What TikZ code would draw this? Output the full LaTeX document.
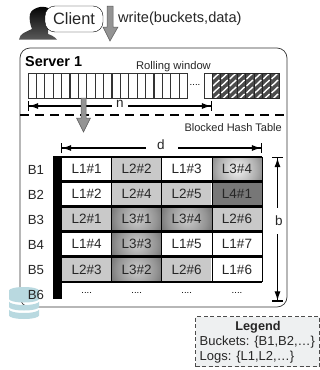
\documentclass[tikz,border=0pt]{standalone}
\usepackage{fontspec}
\setmainfont{Liberation Sans}
\usetikzlibrary{arrows.meta}
\definecolor{cylc}{HTML}{B9D9E0}
\definecolor{legc}{HTML}{EEF0F1}
\definecolor{ctwo}{HTML}{C9C9C9}
\definecolor{cfour}{HTML}{777777}
\pgfdeclareradialshading{glowa}{\pgfpoint{0cm}{0cm}}{color(0bp)=(white!95!black);color(14bp)=(white!68!black);color(36bp)=(black!85);color(50bp)=(black!92)}
\pgfdeclareradialshading{glowb}{\pgfpoint{0cm}{0cm}}{color(0bp)=(white!80!black);color(14bp)=(white!58!black);color(36bp)=(black!88);color(50bp)=(black!92)}
\tikzset{
 cella/.style={minimum width=49.5pt,minimum height=23pt,inner sep=0pt,font=\fontsize{13.5}{15}\selectfont,text=black!85},
 ltwo/.style={cella,fill=ctwo},
 lone/.style={cella,fill=white},
 lfour/.style={cella,fill=cfour},
 lthree/.style={cella,path picture={\shade[shading=glowa] ([shift={(-35pt,-35pt)}]path picture bounding box.center) rectangle ([shift={(35pt,35pt)}]path picture bounding box.center);}},
 lthreeb/.style={cella,path picture={\shade[shading=glowb] ([shift={(-35pt,-35pt)}]path picture bounding box.center) rectangle ([shift={(35pt,35pt)}]path picture bounding box.center);}},
 rowlab/.style={font=\fontsize{13.2}{15}\selectfont,text=black!85},
 halfdim/.style={line width=1.1pt,{Bar[width=10pt]Latex[length=9pt,width=6pt]}-},
 halfdimb/.style={line width=1.1pt,-{Latex[length=9pt,width=6pt]Bar[width=10pt]}},
 slot/.style={draw=black!80,minimum width=8.3pt,minimum height=25pt,inner sep=0pt,line width=.5pt},
 bigarrow/.style={fill=black!42,draw=black!65,line width=.5pt},
 dimlab/.style={font=\fontsize{13.5}{15}\selectfont,text=black!85,inner sep=0pt}
}
\begin{document}
\begin{tikzpicture}[x=1pt,y=-1pt,line join=miter]
\useasboundingbox (0,0) rectangle (320,370);
% person
\shade[top color=black,bottom color=black!65] (19,39.5) .. controls (20,33) and (26,32) .. (32,29) .. controls (30,24) and (29,19) .. (30,14) .. controls (32,8) and (42,5) .. (48,8) -- (48,34) .. controls (51,35) and (55,37) .. (57,39.5) -- cycle;
\node[draw,fill=white,rounded corners=10pt,minimum width=58pt,minimum height=26pt,inner sep=0pt,font=\fontsize{16.4}{18}\selectfont,text=black!85] (client) at (74,19) {Client};
\node[anchor=west,font=\fontsize{14.6}{16}\selectfont,text=black!85,inner sep=0pt] (wr) at (118,19) {write(buckets,data)};
% top arrow
\draw[bigarrow] (107,6) -- (113,6) -- (113,27) -- (118,27) -- (110,41) -- (103,27) -- (107,27) -- cycle;
% server
\draw[black!80,line width=.7pt,rounded corners=10pt] (20,48) rectangle (287,307);
\node[font=\bfseries\fontsize{14.4}{16}\selectfont,anchor=west,inner sep=0pt] (srv) at (25,62) {Server 1};
\node[font=\fontsize{11.2}{13}\selectfont,text=black!85,inner sep=0pt] (rw) at (173.5,67) {Rolling window};
\foreach \i in {0,...,18} \node[slot,anchor=west] (s\i) at ({27.5+\i*8.4},86) {};
\node[font=\fontsize{9.5}{11}\selectfont,inner sep=0pt] (dots) at (195,85) {....};
\node[slot,anchor=west] (s19) at (203.5,86) {};
% hatched slots
\fill[black!70] (212,73.5) rectangle (279,98.5);
\begin{scope}
\clip (212,73.5) rectangle (279,98.5);
\foreach \i in {0,...,7} \foreach \k in {0,1,2,3}
 \draw[white,line width=1.4pt] ({212+\i*8.375+1},{79+\k*7}) -- ({212+\i*8.375+7.4},{73+\k*7});
\end{scope}
\foreach \i in {0,...,8} \draw[black!85,line width=.7pt] ({212+\i*8.375},73.5) -- ({212+\i*8.375},98.5);
\draw[black!85,line width=.7pt] (212,73.5) rectangle (279,98.5);
% n
\coordinate (na) at (28,106); \coordinate (nb) at (212,106);
\coordinate (ne) at (112,106); \coordinate (nf) at (128,106);
\node[dimlab] (nl) at (120,103.5) {n};
\draw[halfdim] (na) -- (ne);
\draw[halfdimb] (nf) -- (nb);
\draw[line width=1.3pt,dash pattern=on 9pt off 6pt] (20,115) -- (287,115);
\draw[bigarrow] (81,98) -- (86,98) -- (86,118) -- (90.5,118) -- (83.5,132) -- (76.5,118) -- (81,118) -- cycle;
\node[font=\fontsize{11}{13}\selectfont,text=black!85,anchor=east,inner sep=0pt] (bht) at (282,127.5) {Blocked Hash Table};
% d
\coordinate (da) at (61,148); \coordinate (db) at (262,148);
\coordinate (de) at (146,148); \coordinate (df) at (178,148);
\node[dimlab] (dl) at (161,145) {d};
\draw[halfdim] (da) -- (de);
\draw[halfdimb] (df) -- (db);
% table
\fill (53,156) rectangle (62,299);
\node[lone] (c11) at (86.7,169) {L1\#1};
\node[ltwo] (c12) at (136.7,169) {L2\#2};
\node[lone] (c13) at (186.7,169) {L1\#3};
\node[lthree] (c14) at (237,169) {L3\#4};
\node[lone] (c21) at (86.7,194) {L1\#2};
\node[ltwo] (c22) at (136.7,194) {L2\#4};
\node[ltwo] (c23) at (186.7,194) {L2\#5};
\node[lfour] (c24) at (237,194) {L4\#1};
\node[ltwo] (c31) at (86.7,219) {L2\#1};
\node[lthreeb] (c32) at (136.7,219) {L3\#1};
\node[lthreeb] (c33) at (186.7,219) {L3\#4};
\node[ltwo] (c34) at (237,219) {L2\#6};
\node[lone] (c41) at (86.7,244) {L1\#4};
\node[lthreeb] (c42) at (136.7,244) {L3\#3};
\node[lone] (c43) at (186.7,244) {L1\#5};
\node[lone] (c44) at (237,244) {L1\#7};
\node[ltwo] (c51) at (86.7,269.5) {L2\#3};
\node[lthreeb] (c52) at (136.7,269.5) {L3\#2};
\node[ltwo] (c53) at (186.7,269.5) {L2\#6};
\node[lone] (c54) at (237,269.5) {L1\#6};
\foreach \x/\n in {86.7/a,136.7/b,186.7/c,237/e} \node[font=\fontsize{9.5}{11}\selectfont,inner sep=0pt] (dd\n) at (\x,293) {....};
\draw[line width=2pt] (62,156.5) -- (262,156.5);
\foreach \y in {181.5,206.5,231.8,256.5,282} \draw[line width=2.8pt] (62,\y) -- (262,\y);
\foreach \x in {111.7,161.7,212} \draw[line width=.7pt] (\x,156.5) -- (\x,282);
\draw[line width=.7pt] (262,156.5) -- (262,282);
% b
\coordinate (ba) at (277.5,157); \coordinate (bb) at (277.5,301.5);
\coordinate (be) at (277.5,208); \coordinate (bf) at (277.5,234);
\node[dimlab] (bl) at (279,221) {b};
\draw[line width=1.1pt,{Bar[width=11pt]Latex[length=9pt,width=6pt]}-] (ba) -- (be);
\draw[line width=1.1pt,-{Latex[length=9pt,width=6pt]Bar[width=11pt]}] (bf) -- (bb);
% cylinder
\fill[cylc] (9,290.5) arc[start angle=180,end angle=360,x radius=15,y radius=3.5] -- (39,299) arc[start angle=0,end angle=180,x radius=15,y radius=3.5] -- cycle;
\fill[cylc] (9,301.5) arc[start angle=180,end angle=0,x radius=15,y radius=3.5] -- (39,307) arc[start angle=0,end angle=180,x radius=15,y radius=3.5] -- cycle;
\fill[cylc] (9,309.5) arc[start angle=180,end angle=0,x radius=15,y radius=3.5] -- (39,315.5) arc[start angle=0,end angle=180,x radius=15,y radius=3.5] -- cycle;
% row labels
\foreach \y/\t in {170/B1,195/B2,220/B3,245/B4,270/B5,294.5/B6} \node[rowlab,inner sep=0pt] (l\t) at (36,\y) {\t};
% legend
\node[draw=black!70,dash pattern=on 4pt off 2.5pt,line width=1pt,fill=legc,minimum width=124pt,minimum height=50pt,inner sep=0pt] (leg) at (257.5,341.5) {};
\node[font=\bfseries\fontsize{12.7}{14}\selectfont,text=black!85,inner sep=0pt] (legt) at (258,327) {Legend};
\node[anchor=west,font=\fontsize{13}{15}\selectfont,text=black!85,inner sep=0pt] (lb) at (199.5,342) {Buckets: \{B1,B2,…\}};
\node[anchor=west,font=\fontsize{13}{15}\selectfont,text=black!85,inner sep=0pt] (ll) at (199.5,357) {Logs: \{L1,L2,…\}};
\end{tikzpicture}
\end{document}
